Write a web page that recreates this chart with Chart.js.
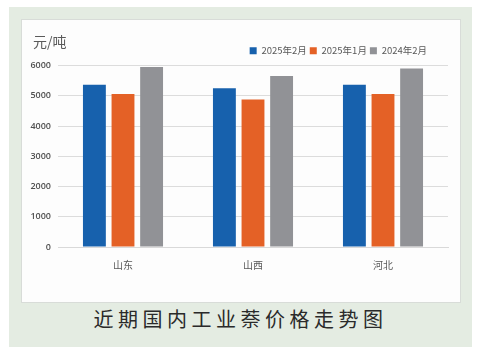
<!DOCTYPE html>
<html><head><meta charset="utf-8">
<script src="https://cdn.jsdelivr.net/npm/chart.js@4/dist/chart.umd.min.js"></script>
<style>
html,body{margin:0;padding:0;background:#fff;width:481px;height:358px;overflow:hidden;}
#outer{position:absolute;left:9px;top:7px;width:463px;height:340px;background:#e4ece2;}
#panel{position:absolute;left:21px;top:19px;width:438px;height:282px;background:#fdfdfd;border:1px solid #d8dcd8;}
#wrap{position:absolute;left:0;top:0;width:438px;height:282px;}
#unit{position:absolute;left:11px;top:14px;font-family:"Noto Sans CJK SC";font-size:14px;color:#5a5a5a;line-height:1;}
#title{position:absolute;left:0;width:481px;top:309px;text-align:center;font-family:"Noto Sans CJK SC";font-size:20px;letter-spacing:4.5px;color:#2a2a2a;line-height:1;}
</style></head>
<body>
<div id="outer"></div>
<div id="panel"><div id="wrap"><canvas id="c"></canvas></div><div id="unit">元/吨</div></div>
<div id="title">近期国内工业萘价格走势图</div>
<script>
const categories = ["山东","山西","河北"];
const seriesNames = ["2025年2月","2025年1月","2024年2月"];
const feb2025 = [5360, 5250, 5360];
const jan2025 = [5060, 4880, 5060];
const feb2024 = [5950, 5650, 5900];
const yTicks = [0,1000,2000,3000,4000,5000,6000];
const colors = ["#1761ad","#e46126","#919296"];

const legendShift = {
  id: 'legendShift',
  beforeDraw(chart) {
    const lg = chart.legend;
    if (lg && !lg._shifted) { lg.right -= 18; lg._shifted = true; }
  }
};

new Chart(document.getElementById('c'), {
  type: 'bar',
  data: {
    labels: categories,
    datasets: [feb2025, jan2025, feb2024].map((d,i)=>({
      label: seriesNames[i], data: d, backgroundColor: colors[i],
      borderWidth: 0, categoryPercentage: 0.66, barPercentage: 0.8
    }))
  },
  plugins: [legendShift],
  options: {
    responsive: true, maintainAspectRatio: false, animation: false,
    layout: {padding: {left: 0, right: 12, top: 23, bottom: 27}},
    plugins: {
      tooltip: {enabled: false},
      legend: {
        position: 'top', align: 'end',
        labels: {boxWidth: 7, boxHeight: 7, padding: 3, color: '#595959',
          font: {family: '"Noto Sans CJK SC"', size: 9.5}}
      }
    },
    scales: {
      x: {
        grid: {display: false},
        border: {color: '#d9d9d9'},
        ticks: {color: '#595959', font: {family: '"Noto Sans CJK SC"', size: 10}, padding: 4}
      },
      y: {
        min: 0, max: 6000,
        afterBuildTicks: (s)=>{ s.ticks = yTicks.map(v=>({value:v})); },
        afterFit: (s)=>{ s.width = 36; },
        grid: {color: '#dcdcdc', drawTicks: false},
        border: {display: false},
        ticks: {color: '#505050', font: {family: '"Open Sans"', size: 9, weight: '600'}, padding: 7,
          callback: (v)=>String(v)}
      }
    }
  }
});
</script>
</body></html>
